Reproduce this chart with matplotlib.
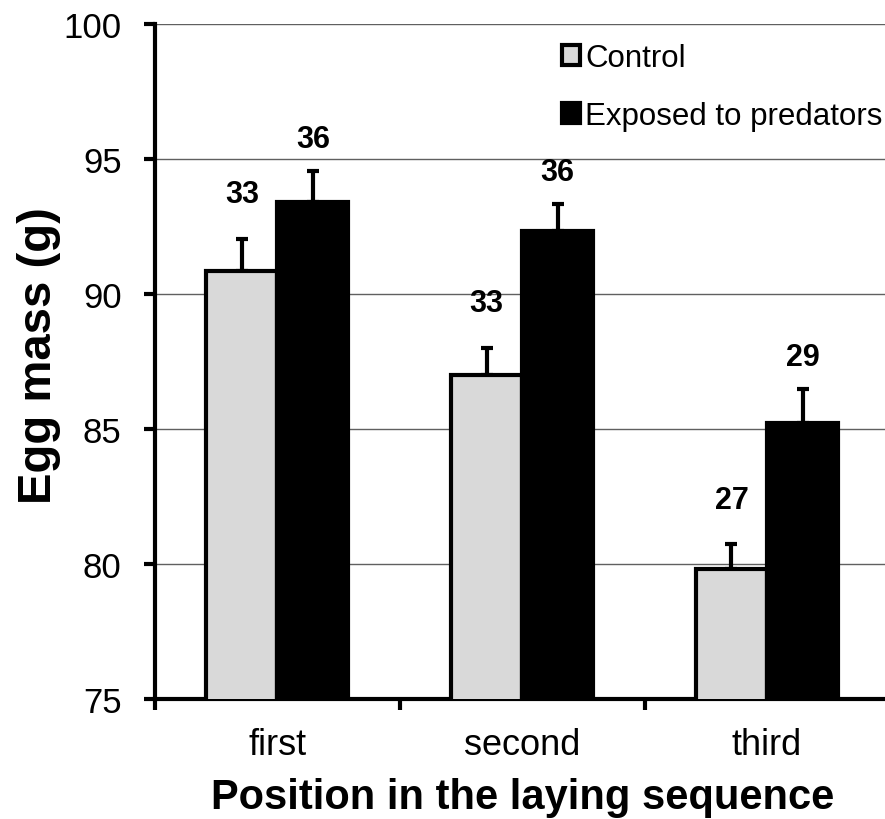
import numpy as np
import matplotlib
matplotlib.use("Agg")
import matplotlib.pyplot as plt

plt.rcParams['font.family'] = ['Liberation Sans', 'DejaVu Sans']

categories = ["first", "second", "third"]
control_mean = [90.85, 87.0, 79.8]
control_se = [1.2, 1.0, 0.93]
exposed_mean = [93.4, 92.33, 85.22]
exposed_se = [1.15, 1.0, 1.26]
control_n = ["33", "33", "27"]
exposed_n = ["36", "36", "29"]

fig = plt.figure(figsize=(8.85, 8.2), dpi=100)
ax = fig.add_axes([0.175, 0.1463, 0.83, 0.8232])

x = np.arange(len(categories))
w = 0.29

# grid first so bars sit on top
ax.set_axisbelow(True)
ax.yaxis.grid(True, color='#606060', linewidth=1)

ax.bar(x - w / 2, control_mean, w, color='#d9d9d9', edgecolor='black',
       linewidth=3, label='Control', zorder=3)
ax.bar(x + w / 2, exposed_mean, w, color='black', edgecolor='black',
       linewidth=3, label='Exposed to predators', zorder=3)

ax.errorbar(x - w / 2, control_mean, yerr=[np.zeros(3), control_se], fmt='none',
            ecolor='black', elinewidth=3, capsize=4, capthick=3, zorder=2)
ax.errorbar(x + w / 2, exposed_mean, yerr=[np.zeros(3), exposed_se], fmt='none',
            ecolor='black', elinewidth=3, capsize=4, capthick=3, zorder=2)

for i in range(len(categories)):
    ax.text(x[i] - w / 2, control_mean[i] + control_se[i] + 1.65, control_n[i],
            ha='center', va='center', fontsize=22, fontweight='bold')
    ax.text(x[i] + w / 2, exposed_mean[i] + exposed_se[i] + 1.2, exposed_n[i],
            ha='center', va='center', fontsize=22, fontweight='bold')

ax.set_xlim(-0.5, 2.5)
ax.set_ylim(75, 100)
ax.set_yticks([75, 80, 85, 90, 95, 100])
ax.set_xticks(x)
ax.set_xticklabels(categories)
ax.set_xticks([-0.5, 0.5, 1.5], minor=True)
ax.tick_params(axis='x', which='major', length=0, labelsize=26, pad=20)
ax.tick_params(axis='x', which='minor', length=8, width=3, direction='out')
ax.tick_params(axis='y', length=8, width=3, direction='out', labelsize=25, pad=16)

for s in ['top', 'right']:
    ax.spines[s].set_visible(False)
ax.spines['left'].set_linewidth(3)
ax.spines['bottom'].set_linewidth(3)

ax.set_ylabel("Egg mass (g)", fontsize=34, fontweight='bold')
ax.yaxis.set_label_coords(-0.128, 0.51)
ax.set_xlabel("Position in the laying sequence", fontsize=30, fontweight='bold', labelpad=11)

ax.legend(loc='upper right', bbox_to_anchor=(1.016, 1.0), frameon=False,
          fontsize=22.5, handlelength=0.6, handleheight=0.6, handletextpad=0.15,
          labelspacing=0.9, borderaxespad=0.2)

fig.savefig("out.png", dpi=100)
